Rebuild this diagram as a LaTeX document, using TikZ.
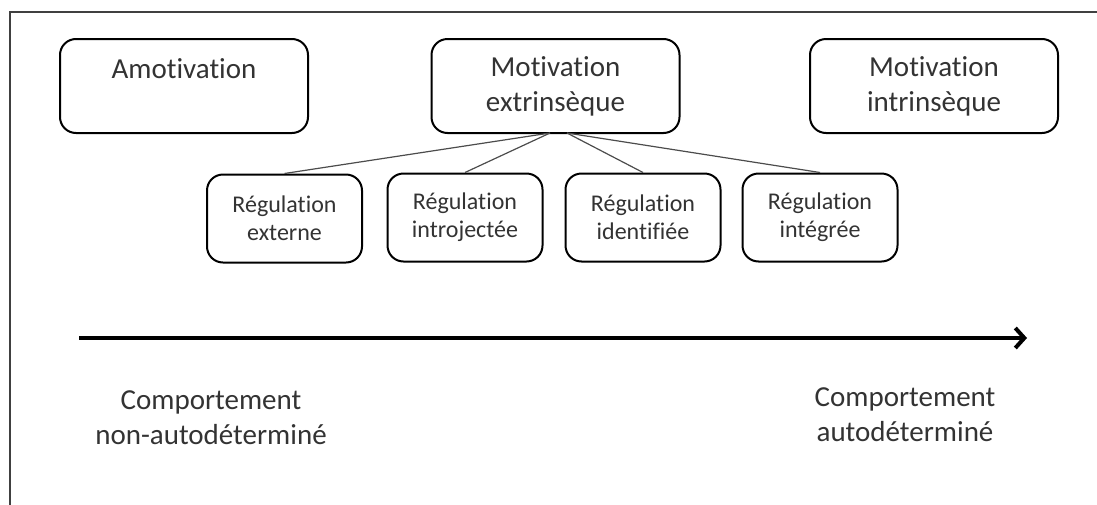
\documentclass[tikz,border=0pt]{standalone}
\usepackage{fontspec}
\setmainfont{Carlito}[Ligatures={NoCommon,NoContextual}, RawFeature={-liga;-clig;-calt;-dlig}]
\usetikzlibrary{arrows.meta}
\tikzset{
  bigbox/.style={draw, line width=1pt, rounded corners=8pt, minimum width=124pt, minimum height=47pt, align=center, text=black!80, font=\fontsize{14.5}{17.5}\selectfont},
  regbox/.style={draw, line width=1pt, rounded corners=8pt, minimum width=77.5pt, minimum height=44pt, align=center, text=black!80, font=\fontsize{12}{14}\selectfont},
  label/.style={align=center, text=black!80, font=\fontsize{14.5}{17.5}\selectfont}
}
\begin{document}
\begin{tikzpicture}[x=0.5pt, y=-0.5pt]
        \useasboundingbox (0,0) rectangle (1097,504);
        \draw[black!75, line width=1pt] (10,520) -- (10,12) -- (1110,12);

        \node[bigbox] (amot) at (184,86) {Amotivation\\~};
        \node[bigbox] (ext) at (555.5,86) {Motivation\\extrinsèque};
        \node[bigbox] (intr) at (934,86) {Motivation\\intrinsèque};

        \node[regbox] (externe) at (284.5,218.5) {Régulation\\externe};
        \node[regbox] (introj) at (465,217.5) {Régulation\\introjectée};
        \node[regbox] (ident) at (643,217.5) {Régulation\\identifiée};
        \node[regbox] (integ) at (820,217.5) {Régulation\\intégrée};

        \coordinate (extl) at (550,133);
        \coordinate (extr) at (567,133);
        \draw[black!70, line width=0.6pt] (extl) -- (externe.north);
        \draw[black!70, line width=0.6pt] (extl) -- (introj.north);
        \draw[black!70, line width=0.6pt] (extr) -- (ident.north);
        \draw[black!70, line width=0.6pt] (extr) -- (integ.north);

        \coordinate (start) at (79,338);
        \coordinate (end) at (1027,338);
        \draw[line width=2pt, -{Straight Barb[length=4.5pt, width=10pt]}] (start) -- (end);

        \node[label] (nonauto) at (211,418) {Comportement\\non-autodéterminé};
        \node[label] (auto) at (905,415) {Comportement\\autodéterminé};
\end{tikzpicture}
\end{document}
